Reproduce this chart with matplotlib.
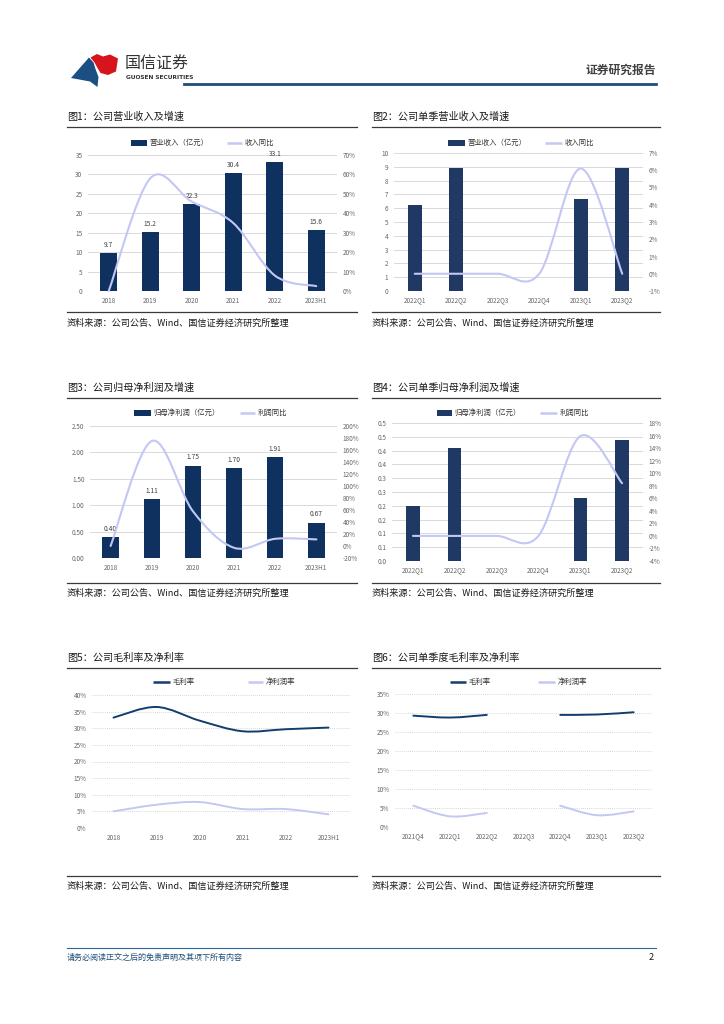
import numpy as np
import matplotlib
matplotlib.use("Agg")
import matplotlib.pyplot as plt
from matplotlib.path import Path
from matplotlib.patches import PathPatch, Polygon, Rectangle

plt.rcParams["font.family"] = ["Noto Sans CJK SC", "DejaVu Sans"]

W, H = 724, 1024

# ---- data ----
years = ["2018", "2019", "2020", "2021", "2022", "2023H1"]
rev = [9.7, 15.2, 22.3, 30.4, 33.1, 15.6]
rev_yoy = [0, 58, 46, 35, 8, 2.5]

q_rev = ["2022Q1", "2022Q2", "2022Q3", "2022Q4", "2023Q1", "2023Q2"]
q_rev_val = [6.25, 8.9, np.nan, np.nan, 6.7, 8.9]
q_rev_yoy = [0, 0, 0, 0, 6.1, 0]

profit = [0.40, 1.11, 1.75, 1.70, 1.91, 0.67]
profit_labels = ["0.40", "1.11", "1.75", "1.70", "1.91", "0.67"]
profit_yoy = [0, 175, 58, -3, 12, 11]

q_profit_val = [0.20, 0.41, np.nan, np.nan, 0.23, 0.44]
q_profit_yoy = [0, 0, 0, 0, 15.9, 8.4]

gross = [33.2, 36.4, 32.3, 29.1, 29.7, 30.2]
net = [5.0, 7.0, 7.8, 5.7, 5.7, 4.1]

q6 = ["2021Q4", "2022Q1", "2022Q2", "2022Q3", "2022Q4", "2023Q1", "2023Q2"]
q_gross = [29.3, 28.8, 29.5, np.nan, 29.5, 29.6, 30.2]
q_net = [5.6, 2.8, 3.7, np.nan, 5.6, 3.1, 4.1]

NAVY = "#0F315F"
NAVY2 = "#203864"
LAV = "#C4C7F3"
GRID = "#D9D9D9"
TXT = "#666666"

fig = plt.figure(figsize=(W / 100, H / 100), dpi=100)

# overlay in pixel coordinates for page furniture
pg = fig.add_axes([0, 0, 1, 1])
pg.set_xlim(0, W)
pg.set_ylim(H, 0)
pg.axis("off")


def box(x0, y0, x1, y1):
    return [x0 / W, 1 - y1 / H, (x1 - x0) / W, (y1 - y0) / H]


def smooth(ax, xs, ys, color, lw, z=5):
    # Excel-like smoothed line, split at gaps
    runs, cur = [], []
    for x, y in zip(xs, ys):
        if np.isnan(y):
            if cur:
                runs.append(cur)
            cur = []
        else:
            cur.append(np.array([x, y], float))
    if cur:
        runs.append(cur)
    for r in runs:
        n = len(r)
        if n < 2:
            continue
        verts, codes = [r[0]], [Path.MOVETO]
        for i in range(n - 1):
            p0 = r[i - 1] if i > 0 else r[i]
            p1, p2 = r[i], r[i + 1]
            p3 = r[i + 2] if i + 2 < n else r[i + 1]
            verts += [p1 + (p2 - p0) / 6, p2 - (p3 - p1) / 6, p2]
            codes += [Path.CURVE4] * 3
        ax.add_patch(PathPatch(Path(verts, codes), fill=False, edgecolor=color,
                               lw=lw, zorder=z, capstyle="round", clip_on=False))


def frame(x0, x1, ytitle, title, ysrc_line, ysrc):
    pg.text(x0, ytitle, title, fontsize=7.3, color="#1a1a1a", va="center", ha="left")
    pg.plot([x0, x1], [ytitle + 10, ytitle + 10], color="#3a3a3a", lw=0.9)
    pg.plot([x0, x1], [ysrc_line, ysrc_line], color="#3a3a3a", lw=0.9)
    pg.text(x0, ysrc, "资料来源：公司公告、Wind、国信证券经济研究所整理",
            fontsize=6.6, color="#1a1a1a", va="center", ha="left")


def leg_patch(x0, x1, y, label, color):
    pg.add_patch(Rectangle((x0, y - 3), x1 - x0, 6, color=color, lw=0))
    pg.text(x1 + 2.5, y, label, fontsize=5.3, color="#333333", va="center", ha="left")


def leg_line(x0, x1, y, label, color):
    pg.plot([x0, x1], [y, y], color=color, lw=1.8, solid_capstyle="butt")
    pg.text(x1 + 2.5, y, label, fontsize=5.3, color="#333333", va="center", ha="left")


def style(ax, dotted=False):
    for s in ax.spines.values():
        s.set_visible(False)
    ax.tick_params(length=0, labelsize=4.6, labelcolor=TXT, pad=4)
    ax.set_axisbelow(True)
    if dotted:
        ax.yaxis.grid(True, color="#C8C8C8", lw=0.6, ls=(0, (1, 1.5)))
    else:
        ax.yaxis.grid(True, color=GRID, lw=0.7)


def pct(ax, ticks):
    ax.set_yticks(ticks)
    ax.set_yticklabels([f"{t:g}%" for t in ticks])


# ---- header ----
pg.add_patch(Polygon([(71, 78), (89, 57.5), (93.5, 62.5), (95.5, 69), (98.5, 77),
                      (97.5, 87), (90, 81.5)], closed=True, color="#1B4F84", lw=0))
pg.add_patch(Polygon([(90.5, 57.5), (97, 54), (103, 56.5), (110, 54.5), (118, 58.5),
                      (116, 71.5), (108, 75), (100.5, 73), (97.5, 68), (94.5, 62.5)],
                     closed=True, color="#D7141E", lw=0))
pg.text(125, 64, "国信证券", fontsize=11.5, color="#333333", va="center", ha="left",
        fontweight="medium")
pg.text(125.5, 77.5, "GUOSEN SECURITIES", fontsize=4.2, color="#333333",
        va="center", ha="left", family="DejaVu Sans", fontweight="bold")
pg.text(656, 70, "证券研究报告", fontsize=8.5, color="#404040", va="center",
        ha="right", fontweight="bold")
pg.plot([184, 656], [84, 84], color="#1F4E79", lw=2)

# ---- footer ----
pg.plot([67, 656], [948, 948], color="#2E6499", lw=0.8)
pg.text(67, 957, "请务必阅读正文之后的免责声明及其项下所有内容", fontsize=5.8,
        color="#1F4E79", va="center", ha="left", style="italic")
pg.text(654, 957, "2", fontsize=6.5, color="#1a1a1a", va="center", ha="right")

# ---- Fig 1 ----
frame(67, 357, 117, "图1：公司营业收入及增速", 312, 323)
leg_patch(131, 147, 143, "营业收入（亿元）", NAVY)
leg_line(227, 242, 143, "收入同比", LAV)
ax = fig.add_axes(box(88, 155, 337, 291))
style(ax)
x = np.arange(len(years))
ax.bar(x, rev, width=0.4, color=NAVY, zorder=3)
for i, v in enumerate(rev):
    ax.annotate(f"{v:.1f}", (i, v), xytext=(0, 3), textcoords="offset points",
                ha="center", va="bottom", fontsize=4.8, color="#404040")
ax.set_ylim(0, 35)
ax.set_yticks(range(0, 36, 5))
ax.set_xlim(-0.5, 5.5)
ax.set_xticks(x)
ax.set_xticklabels(years)
ax2 = ax.twinx()
style(ax2)
ax2.yaxis.grid(False)
ax2.set_ylim(0, 70)
pct(ax2, range(0, 71, 10))
smooth(ax2, x, rev_yoy, LAV, 1.5)

# ---- Fig 2 ----
frame(372, 660, 117, "图2：公司单季营业收入及增速", 312, 323)
leg_patch(448, 465, 143, "营业收入（亿元）", NAVY2)
leg_line(545, 562, 143, "收入同比", LAV)
ax = fig.add_axes(box(394, 153, 643, 291))
style(ax)
x = np.arange(len(q_rev))
ax.bar(x, q_rev_val, width=0.34, color=NAVY2, zorder=3)
ax.set_ylim(0, 10)
ax.set_yticks(range(0, 11))
ax.set_xlim(-0.5, 5.5)
ax.set_xticks(x)
ax.set_xticklabels(q_rev)
ax2 = ax.twinx()
style(ax2)
ax2.yaxis.grid(False)
ax2.set_ylim(-1, 7)
pct(ax2, range(-1, 8))
smooth(ax2, x, q_rev_yoy, LAV, 1.5)

# ---- Fig 3 ----
frame(67, 357, 388, "图3：公司归母净利润及增速", 583, 593)
leg_patch(134, 151, 413, "归母净利润（亿元）", NAVY)
leg_line(240, 255, 413, "利润同比", LAV)
ax = fig.add_axes(box(90, 426, 337, 558))
style(ax)
x = np.arange(len(years))
ax.bar(x, profit, width=0.4, color=NAVY, zorder=3)
for i, v in enumerate(profit):
    ax.annotate(profit_labels[i], (i, v), xytext=(0, 3), textcoords="offset points",
                ha="center", va="bottom", fontsize=4.8, color="#404040")
ax.set_ylim(0, 2.5)
ax.set_yticks(np.arange(0, 2.51, 0.5))
ax.set_yticklabels([f"{t:.2f}" for t in np.arange(0, 2.51, 0.5)])
ax.set_xlim(-0.5, 5.5)
ax.set_xticks(x)
ax.set_xticklabels(years)
ax2 = ax.twinx()
style(ax2)
ax2.yaxis.grid(False)
ax2.set_ylim(-20, 200)
pct(ax2, range(-20, 201, 20))
smooth(ax2, x, profit_yoy, LAV, 1.5)

# ---- Fig 4 ----
frame(372, 660, 388, "图4：公司单季归母净利润及增速", 583, 593)
leg_patch(437, 452, 413, "归母净利润（亿元）", NAVY2)
leg_line(540, 557, 413, "利润同比", LAV)
ax = fig.add_axes(box(392, 423, 643, 561))
style(ax)
x = np.arange(len(q_rev))
ax.bar(x, q_profit_val, width=0.32, color=NAVY2, zorder=3)
ax.set_ylim(0, 0.5)
ax.set_yticks(np.linspace(0, 0.5, 11))
ax.set_yticklabels(["0.0", "0.1", "0.1", "0.2", "0.2", "0.3", "0.3", "0.4", "0.4", "0.5", "0.5"])
ax.set_xlim(-0.5, 5.5)
ax.set_xticks(x)
ax.set_xticklabels(q_rev)
ax2 = ax.twinx()
style(ax2)
ax2.yaxis.grid(False)
ax2.set_ylim(-4, 18)
pct(ax2, range(-4, 19, 2))
smooth(ax2, x, q_profit_yoy, LAV, 1.5)

# ---- Fig 5 ----
frame(67, 357, 658, "图5：公司毛利率及净利率", 876, 886)
leg_line(153, 170, 682, "毛利率", "#123E6E")
leg_line(248, 263, 682, "净利润率", LAV)
ax = fig.add_axes(box(92, 695, 350, 828))
style(ax, dotted=True)
x = np.arange(len(years))
ax.set_ylim(0, 40)
pct(ax, range(0, 41, 5))
ax.set_xlim(-0.5, 5.5)
ax.set_xticks(x)
ax.set_xticklabels(years)
smooth(ax, x, gross, "#123E6E", 1.4)
smooth(ax, x, net, LAV, 1.4)

# ---- Fig 6 ----
frame(372, 660, 658, "图6：公司单季度毛利率及净利率", 876, 886)
leg_line(450, 466, 682, "毛利率", "#123E6E")
leg_line(538, 555, 682, "净利润率", LAV)
ax = fig.add_axes(box(395, 694, 652, 827))
style(ax, dotted=True)
x = np.arange(len(q6))
ax.set_ylim(0, 35)
pct(ax, range(0, 36, 5))
ax.set_xlim(-0.5, 6.5)
ax.set_xticks(x)
ax.set_xticklabels(q6)
smooth(ax, x, q_gross, "#123E6E", 1.4)
smooth(ax, x, q_net, LAV, 1.4)

fig.savefig("out.png", dpi=100)
